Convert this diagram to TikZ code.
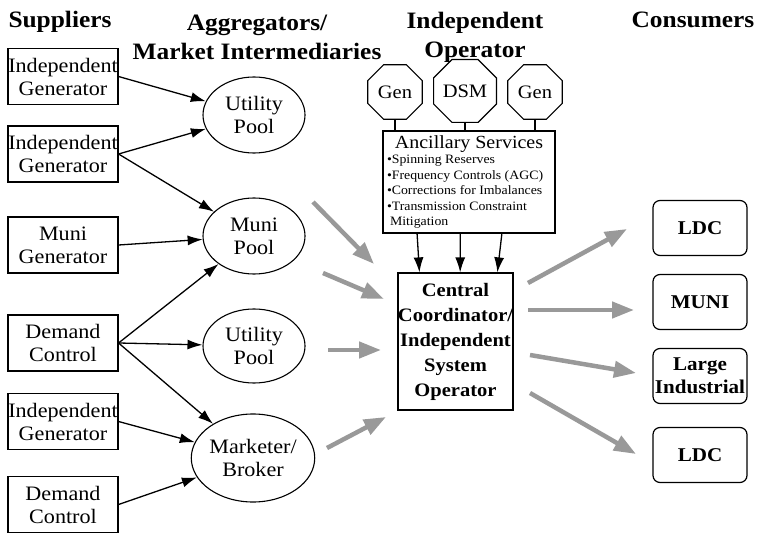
\documentclass[tikz,border=0pt]{standalone}
\usepackage{fontspec}
\setmainfont[FakeStretch=1.08]{Liberation Serif}
\usetikzlibrary{shapes.geometric,arrows.meta,calc}

\begin{document}
\begin{tikzpicture}[x=1pt,y=-1pt,
  hdr/.style={font=\fontsize{23.5}{29}\selectfont\bfseries, align=center, inner sep=0pt},
  supbox/.style={draw, line width=1.1pt, minimum width=110pt, minimum height=56pt,
    inner sep=0pt, align=center, font=\fontsize{20.5}{23}\selectfont},
  pool/.style={draw, ellipse, line width=1.1pt, minimum width=102pt, minimum height=76pt,
    inner sep=0pt, align=center, font=\fontsize{20.5}{23}\selectfont},
  octa/.style={draw, regular polygon, regular polygon sides=8, minimum size=59pt,
    inner sep=0pt, line width=1.1pt, font=\fontsize{19}{20}\selectfont},
  consumer/.style={draw, rounded corners=7pt, line width=1.2pt, minimum width=94pt,
    minimum height=55pt, inner sep=0pt, align=center, font=\fontsize{19.5}{23}\selectfont\bfseries},
  feed/.style={line width=1.3pt, -{Latex[length=15pt,width=10pt]}},
  flow/.style={draw=black!40, line width=4.5pt, -{Triangle[length=22pt,width=16pt]}},
]
\useasboundingbox (0,0) rectangle (757,534);

% column headings
\node[hdr, anchor=base] (hsup) at (60,28) {Suppliers};
\node[hdr] (hagg) at (257,37) {Aggregators/\\Market Intermediaries};
\node[hdr] (hop) at (475,37) {Independent\\Operator};
\node[hdr, anchor=base] (hcon) at (693,28) {Consumers};

% suppliers
\node[supbox] (s1) at (63,76.5) {Independent\\Generator};
\node[supbox] (s2) at (63,154) {Independent\\Generator};
\node[supbox] (s3) at (63,245) {Muni\\Generator};
\node[supbox] (s4) at (63,343) {Demand\\Control};
\node[supbox] (s5) at (63,421.5) {Independent\\Generator};
\node[supbox] (s6) at (63,504.5) {Demand\\Control};

% aggregators
\node[pool] (p1) at (254,115) {Utility\\Pool};
\node[pool] (p2) at (254,236) {Muni\\Pool};
\node[pool, minimum height=74pt] (p3) at (254,346) {Utility\\Pool};
\node[pool, minimum width=99pt, minimum height=88pt] (p4) at (253,458) {Marketer/\\Broker};

\draw[feed] (s1.east) -- (p1);
\draw[feed] (s2.east) -- (p1);
\draw[feed] (s2.east) -- (p2);
\draw[feed] (s3.east) -- (p2);
\draw[feed] (s4.east) -- (p2);
\draw[feed] (s4.east) -- (p3);
\draw[feed] (s4.east) -- (p4);
\draw[feed] (s5.east) -- (p4);
\draw[feed] (s6.east) -- (p4);

% ancillary resources
\node[octa] (g1) at (395,92) {Gen};
\node[octa] (dsm) at (465,91) {DSM};
\node[octa] (g2) at (535,92) {Gen};

\node[draw, line width=1.1pt, minimum width=172pt, minimum height=102pt, inner sep=0pt] (anc) at (469,182)
  {\parbox{164pt}{\centering\fontsize{18.5}{20}\selectfont Ancillary Services\par
   \raggedright\fontsize{12.8}{15.5}\selectfont
   •Spinning Reserves\\
   •Frequency Controls (AGC)\\
   •Corrections for Imbalances\\
   •Transmission Constraint\\
   \hspace*{3pt}Mitigation}};

\draw[line width=1.1pt] (g1.south) -- (g1.south |- anc.north);
\draw[line width=1.1pt] (dsm.south) -- (dsm.south |- anc.north);
\draw[line width=1.1pt] (g2.south) -- (g2.south |- anc.north);

% central coordinator
\node[draw, line width=1.2pt, minimum width=111pt, minimum height=137pt, inner sep=0pt, align=center,
  font=\fontsize{19}{25}\selectfont\bfseries] (cc) at (455.5,341.5)
  {Central\\Coordinator/\\Independent\\System\\Operator};

\draw[feed] ($(anc.south west)!0.2!(anc.south east)$) -- ($(cc.north west)!0.19!(cc.north east)$);
\draw[feed] ($(anc.south west)!0.45!(anc.south east)$) -- ($(cc.north west)!0.54!(cc.north east)$);
\draw[feed] ($(anc.south west)!0.69!(anc.south east)$) -- ($(cc.north west)!0.86!(cc.north east)$);

% consumers
\node[consumer] (c1) at (700,228) {LDC};
\node[consumer] (c2) at (700,302) {MUNI};
\node[consumer] (c3) at (700,376) {Large\\Industrial};
\node[consumer] (c4) at (700,455) {LDC};

% energy flows into and out of the coordinator
\coordinate (a1) at (313,202); \coordinate (b1) at (374,264);
\coordinate (a2) at (323,273); \coordinate (b2) at (384,299);
\coordinate (a3) at (328,350); \coordinate (b3) at (381,350);
\coordinate (a4) at (327,448); \coordinate (b4) at (386,417);
\coordinate (a5) at (528,283); \coordinate (b5) at (627,229);
\coordinate (a6) at (528,310); \coordinate (b6) at (634,310);
\coordinate (a7) at (530,355); \coordinate (b7) at (636,373);
\coordinate (a8) at (530,393); \coordinate (b8) at (636,454);
\foreach \i in {1,...,8} {\draw[flow] (a\i) -- (b\i);}
\end{tikzpicture}
\end{document}
